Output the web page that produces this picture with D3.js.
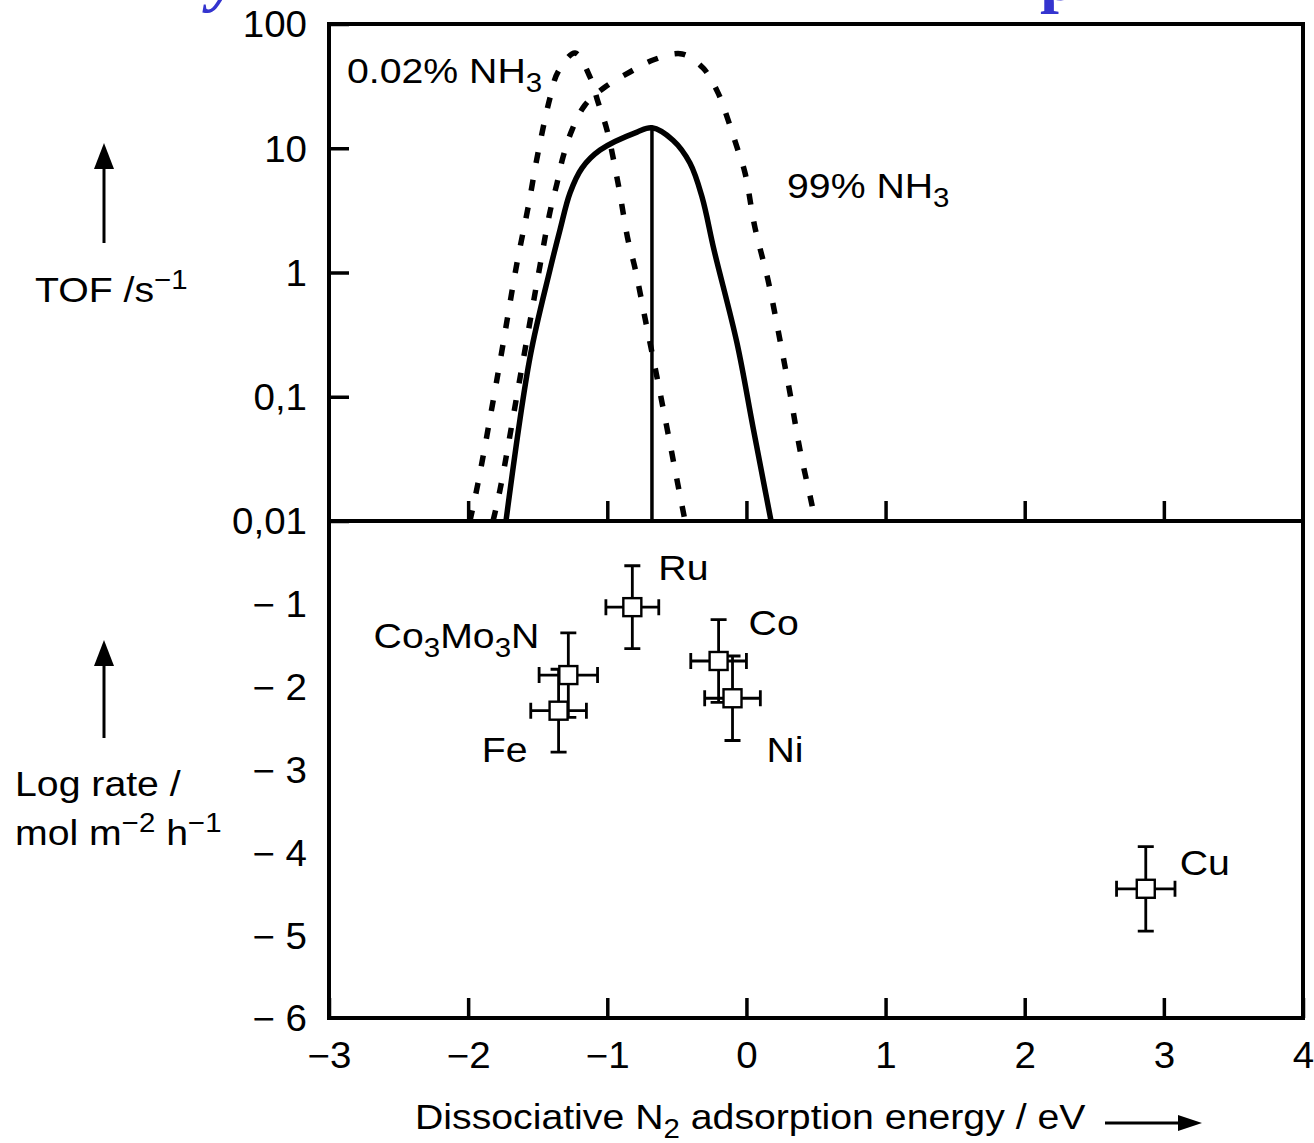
<!DOCTYPE html>
<html>
<head>
<meta charset="utf-8">
<script src="https://cdn.jsdelivr.net/npm/d3@7"></script>
<style>
  html, body { margin: 0; padding: 0; background: #fff; }
  svg { display: block; }
  text { font-family: "Liberation Sans", Arial, Helvetica, sans-serif; fill: #000; }
</style>
</head>
<body>
<svg id="chart" width="1314" height="1143"></svg>
<script>
// ---- Volcano curves: [dissociative N2 adsorption energy (eV), TOF (1/s)] ----
const tofLowNH3 = [
  [-1.987, 0.0100], [-1.929, 0.0202], [-1.785, 0.155], [-1.649, 1.19],
  [-1.570, 3.30], [-1.498, 9.16], [-1.412, 25.4], [-1.354, 41.1],
  [-1.232, 58.4], [-1.124, 37.4], [-1.067, 23.6], [-1.002, 14.0],
  [-0.923, 5.25], [-0.851, 1.83], [-0.801, 1.09], [-0.722, 0.393],
  [-0.643, 0.144], [-0.564, 0.0511], [-0.485, 0.0178], [-0.441, 0.0100]
];
const tofHighNH3 = [
  [-1.821, 0.0100], [-1.771, 0.0178], [-1.627, 0.142], [-1.484, 1.13],
  [-1.412, 3.07], [-1.361, 5.25], [-1.318, 8.51], [-1.254, 14.0],
  [-1.160, 22.3], [-1.016, 31.1], [-0.837, 41.1], [-0.671, 51.3],
  [-0.463, 57.4], [-0.312, 44.3], [-0.204, 27.9], [-0.132, 16.9],
  [-0.068, 10.2], [-0.010, 6.32], [0.062, 2.28], [0.155, 0.871],
  [0.241, 0.286], [0.313, 0.107], [0.385, 0.0373], [0.471, 0.0135],
  [0.493, 0.0100]
];
const tofOperating = [
  [-1.728, 0.0100], [-1.555, 0.209], [-1.412, 1.05], [-1.340, 2.20],
  [-1.268, 4.37], [-1.182, 6.93], [-1.052, 9.68], [-0.786, 13.5],
  [-0.679, 14.6], [-0.528, 11.6], [-0.406, 7.60], [-0.319, 4.05],
  [-0.233, 1.52], [-0.068, 0.271], [0.047, 0.0571], [0.177, 0.0100]
];

// ---- Measured catalysts ----
const catalysts = ["Ru", "Co", "Ni", "Co3Mo3N", "Fe", "Cu"];
const adsEnergy = [-0.82, -0.20, -0.10, -1.28, -1.35, 2.87];
const logRate   = [-1.04, -1.69, -2.14, -1.86, -2.29, -4.44];
const energyErr = [0.19, 0.20, 0.20, 0.21, 0.20, 0.21];
const rateErr   = [0.50, 0.50, 0.51, 0.51, 0.50, 0.51];

// ---- Axis ticks ----
const energyTicks = [-3, -2, -1, 0, 1, 2, 3, 4];
const energyTickLabels = ["\u22123", "\u22122", "\u22121", "0", "1", "2", "3", "4"];
const tofTicks = [100, 10, 1, 0.1, 0.01];
const tofTickLabels = ["100", "10", "1", "0,1", "0,01"];
const rateTicks = [-1, -2, -3, -4, -5, -6];
const rateTickLabels = ["\u2212 1", "\u2212 2", "\u2212 3", "\u2212 4", "\u2212 5", "\u2212 6"];

// ---- Layout ----
const L = 329, R = 1303, T = 24, M = 521, B = 1018;
const FS = 36;          // font size
const WIDE = 1.09;      // horizontal stretch of label lettering
const TICK_WIDE = 1.07; // horizontal stretch of tick numerals

const svg = d3.select("#chart");

const x = d3.scaleLinear().domain([-3, 4]).range([L, R]);
const yTof = d3.scaleLog().domain([0.01, 100]).range([M, T]);
const yRate = d3.scaleLinear().domain([-6, 0]).range([B, M]);

// places a text node at (px, py) with widened lettering
function label(px, py, anchor) {
  return svg.append("text")
    .attr("transform", `translate(${px},${py}) scale(${WIDE},1)`)
    .attr("text-anchor", anchor || "start");
}
// writes a run of plain / subscript / superscript pieces into a text node
function richText(sel, parts, size) {
  let shift = 0;
  parts.forEach(p => {
    const target = p.sub ? 0.26 * size : p.sup ? -0.36 * size : 0;
    sel.append("tspan")
      .attr("dy", target - shift)
      .style("font-size", (p.sub || p.sup) ? (0.75 * size) + "px" : size + "px")
      .text(p.t);
    shift = target;
  });
  return sel;
}
function formulaParts(name) {
  return name.match(/[A-Za-z]+|\d+/g).map(s => /\d/.test(s) ? { t: s, sub: true } : { t: s });
}

// ---- heading above the plot, cut off by the page edge ----
svg.append("text").attr("x", 209).attr("y", -1)
  .style("font-family", "'Liberation Serif', 'DejaVu Serif', serif")
  .style("font-style", "italic").style("font-weight", "bold")
  .style("font-size", "66px").style("fill", "#3434cf").text("y");
svg.append("text").attr("x", 1040).attr("y", 0)
  .style("font-family", "'Liberation Serif', 'DejaVu Serif', serif")
  .style("font-weight", "bold")
  .style("font-size", "68px").style("fill", "#3434cf").text("p");

// ---- upper panel: TOF axis ----
const tofAxis = d3.axisLeft(yTof)
  .tickValues(tofTicks)
  .tickFormat((d, i) => tofTickLabels[i])
  .tickSizeInner(-20).tickSizeOuter(0).tickPadding(22);
const gTof = svg.append("g").attr("transform", `translate(${L},0)`).call(tofAxis);
gTof.select(".domain").remove();
gTof.selectAll(".tick line").attr("stroke", "#000").attr("stroke-width", 3.5);
gTof.selectAll(".tick text").style("font-size", FS + "px").attr("dy", "0.36em")
  .attr("x", 0).attr("transform", `translate(-22,0) scale(${TICK_WIDE},1)`);

// ---- lower panel: log rate axis (labels only) ----
const rateAxis = d3.axisLeft(yRate)
  .tickValues(rateTicks)
  .tickFormat((d, i) => rateTickLabels[i])
  .tickSizeInner(0).tickSizeOuter(0).tickPadding(22);
const gRate = svg.append("g").attr("transform", `translate(${L},0)`).call(rateAxis);
gRate.select(".domain").remove();
gRate.selectAll(".tick line").remove();
gRate.selectAll(".tick text").style("font-size", FS + "px").attr("dy", "0.36em")
  .attr("x", 0).attr("transform", `translate(-22,0) scale(${TICK_WIDE},1)`);

// ---- energy axis along the bottom ----
const energyAxis = d3.axisBottom(x)
  .tickValues(energyTicks)
  .tickFormat((d, i) => energyTickLabels[i])
  .tickSizeInner(-20).tickSizeOuter(0).tickPadding(24);
const gX = svg.append("g").attr("transform", `translate(0,${B})`).call(energyAxis);
gX.select(".domain").remove();
gX.selectAll(".tick line").attr("stroke", "#000").attr("stroke-width", 3.5);
gX.selectAll(".tick text").style("font-size", FS + "px").attr("dy", "0.71em")
  .attr("transform", `scale(${TICK_WIDE},1)`);

// ticks on the panel divider
const midAxis = d3.axisBottom(x)
  .tickValues(energyTicks.slice(1, -1))
  .tickFormat("")
  .tickSizeInner(-20).tickSizeOuter(0);
const gMid = svg.append("g").attr("transform", `translate(0,${M})`).call(midAxis);
gMid.select(".domain").remove();
gMid.selectAll(".tick line").attr("stroke", "#000").attr("stroke-width", 3.5);

// ---- volcano curves ----
const line = d3.line()
  .x(d => x(d[0]))
  .y(d => yTof(d[1]))
  .curve(d3.curveCatmullRom.alpha(0.5));

[tofLowNH3, tofHighNH3].forEach(series => {
  svg.append("path").datum(series)
    .attr("d", line)
    .attr("fill", "none").attr("stroke", "#000")
    .attr("stroke-width", 5.5)
    .attr("stroke-dasharray", "11 17");
});
svg.append("path").datum(tofOperating)
  .attr("d", line)
  .attr("fill", "none").attr("stroke", "#000")
  .attr("stroke-width", 5.5).attr("stroke-linejoin", "round");

// drop line from the maximum of the solid curve
const peak = tofOperating.reduce((a, b) => (b[1] > a[1] ? b : a));
svg.append("line")
  .attr("x1", x(peak[0])).attr("x2", x(peak[0]))
  .attr("y1", yTof(peak[1])).attr("y2", yTof(0.01))
  .attr("stroke", "#000").attr("stroke-width", 3.5);

// curve labels
richText(label(347, 83), [{ t: "0.02% NH" }, { t: "3", sub: true }], FS);
richText(label(787, 198), [{ t: "99% NH" }, { t: "3", sub: true }], FS);

// ---- measured rates with error bars ----
const points = catalysts.map((name, i) => ({
  name, e: adsEnergy[i], r: logRate[i], ex: energyErr[i], ey: rateErr[i]
}));
const cap = 8, box = 18;
const gPts = svg.append("g").attr("stroke", "#000").attr("stroke-width", 2.8);
points.forEach(p => {
  const cx = x(p.e), cy = yRate(p.r);
  const x0 = x(p.e - p.ex), x1 = x(p.e + p.ex);
  const y0 = yRate(p.r + p.ey), y1 = yRate(p.r - p.ey);
  gPts.append("path").attr("fill", "none").attr("d",
    `M${x0},${cy}H${x1}M${x0},${cy - cap}V${cy + cap}M${x1},${cy - cap}V${cy + cap}` +
    `M${cx},${y0}V${y1}M${cx - cap},${y0}H${cx + cap}M${cx - cap},${y1}H${cx + cap}`);
});
gPts.selectAll("rect").data(points).join("rect")
  .attr("x", d => x(d.e) - box / 2).attr("y", d => yRate(d.r) - box / 2)
  .attr("width", box).attr("height", box)
  .attr("fill", "#fff").attr("stroke-width", 2.4);

const labelPlacement = {
  Ru: [26, -27, "start"], Co: [30, -26, "start"], Ni: [34, 64, "start"],
  Co3Mo3N: [-29, -27, "end"], Fe: [-31, 51, "end"], Cu: [34, -14, "start"]
};
points.forEach(p => {
  const [dx, dy, anchor] = labelPlacement[p.name];
  richText(label(x(p.e) + dx, yRate(p.r) + dy, anchor), formulaParts(p.name), FS);
});

// ---- frame and divider ----
svg.append("rect").attr("x", L).attr("y", T).attr("width", R - L).attr("height", B - T)
  .attr("fill", "none").attr("stroke", "#000").attr("stroke-width", 4);
svg.append("line").attr("x1", L).attr("x2", R).attr("y1", M).attr("y2", M)
  .attr("stroke", "#000").attr("stroke-width", 4);

// ---- axis titles with arrows ----
function arrow(x1, y1, x2, y2, head, half) {
  const ang = Math.atan2(y2 - y1, x2 - x1);
  const bx = x2 - head * Math.cos(ang), by = y2 - head * Math.sin(ang);
  svg.append("line").attr("x1", x1).attr("y1", y1).attr("x2", bx).attr("y2", by)
    .attr("stroke", "#000").attr("stroke-width", 3);
  const nx = -Math.sin(ang) * half, ny = Math.cos(ang) * half;
  svg.append("path")
    .attr("d", `M${x2},${y2}L${bx + nx},${by + ny}L${bx - nx},${by - ny}Z`)
    .attr("fill", "#000");
}

arrow(104, 243, 104, 143, 26, 10);
richText(label(35, 302), [{ t: "TOF /s" }, { t: "\u22121", sup: true }], FS);

arrow(104, 738, 104, 640, 26, 10);
label(15, 796).style("font-size", FS + "px").text("Log rate /");
richText(label(15, 845),
  [{ t: "mol m" }, { t: "\u22122", sup: true }, { t: " h" }, { t: "\u22121", sup: true }], FS);

richText(label(415, 1129),
  [{ t: "Dissociative N" }, { t: "2", sub: true }, { t: " adsorption energy / eV" }], FS);
arrow(1105, 1123, 1202, 1123, 24, 8);
</script>
</body>
</html>
